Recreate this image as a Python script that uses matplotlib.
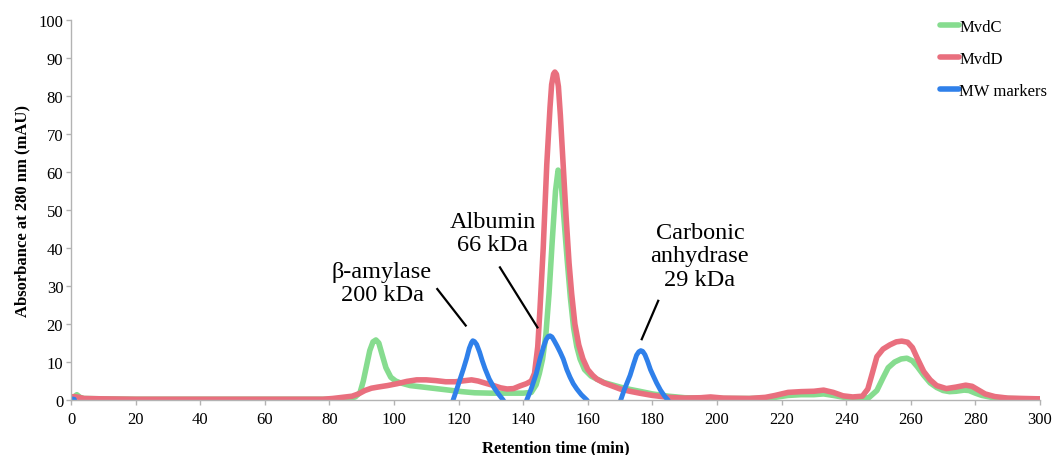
import numpy
import matplotlib
matplotlib.use('Agg')
import matplotlib.pylab as plot
from matplotlib.ticker import MultipleLocator

##########################################################################################
# Values (retention time in min, absorbance in mAU)

mvdc_time = [0, 1, 1.8, 2.8, 4, 10, 20, 40, 60, 80, 85, 88, 89.5, 90.5, 91.5, 92.5, 93.5,
             94.4, 95.3, 96.3, 97.5, 99, 100.5, 102, 105, 109, 113, 117, 121, 125, 130, 135,
             140, 142.5, 144, 145, 146, 147, 148, 149, 150, 150.8, 151.6, 152.6, 153.6,
             154.6, 155.6, 156.6, 157.6, 159, 161, 162.8, 165, 167.5, 170, 173, 176, 180,
             185, 190, 195, 200, 210, 215, 218, 222, 226, 230, 233, 236, 240, 244, 247,
             249.5, 251.5, 253, 255, 257, 258.8, 260.5, 262, 264, 266, 268, 270, 272, 274,
             276.5, 278, 280, 282, 285, 290, 295, 300]
mvdc_abs = [0.5, 0.8, 1.4, 0.7, 0.4, 0.3, 0.2, 0.2, 0.2, 0.2, 0.3, 0.8, 2, 5, 9, 13, 15.3,
            15.8, 15, 12, 8.5, 6, 5, 4.5, 3.8, 3.4, 3.0, 2.6, 2.2, 1.9, 1.8, 1.8,
            1.8, 2, 4, 7, 10.8, 17, 28, 42, 55, 60.5, 59, 48, 37,
            27, 19, 14, 10.8, 8, 6.3, 5.5, 4.6, 4, 3.4, 2.8, 2.3, 1.6,
            1, 0.6, 0.5, 0.4, 0.4, 0.5, 0.7, 1.2, 1.4, 1.4, 1.6, 1.2, 0.6, 0.4, 0.6,
            2.5, 6, 8.5, 10, 10.8, 11, 10.3, 8.8, 6.5, 4.5, 3.3, 2.5, 2.2, 2.3,
            2.6, 2.5, 1.8, 1.2, 0.7, 0.4, 0.3, 0.3]

mvdd_time = [0, 1, 2.5, 4, 10, 20, 40, 60, 78, 81, 84, 87, 89, 91, 93, 95, 98, 101, 104,
             107, 110, 113, 116, 119, 122, 124, 126, 128, 130.5, 133, 135, 137, 139, 141,
             142.5, 143.5, 144.5, 145.2, 146.2, 147.3, 148.3, 148.8, 149.4, 149.8, 150.3,
             150.9, 151.5, 152.3, 153.3, 154.2, 155, 156, 157.2, 158.5, 160, 161.5, 162.8,
             165, 167.5, 170, 173, 176, 180, 185, 190, 195, 198, 202, 210, 215, 218, 222,
             226, 230, 233, 236, 239, 242, 245, 246.7, 248, 249.5, 251.4, 253.5, 255.5,
             257.2, 259, 260.5, 262, 264, 266, 268, 271, 274, 277, 279, 281, 283, 286, 290,
             295, 300]
mvdd_abs = [0.8, 0.9, 0.7, 0.4, 0.3, 0.2, 0.2, 0.2, 0.2, 0.4, 0.7, 1.0, 1.6, 2.5, 3.1, 3.4,
            3.8, 4.3, 4.9, 5.3, 5.3, 5.1, 4.8, 4.8, 5.1, 5.3, 5.0, 4.5, 3.9, 3.2, 2.9, 3.0,
            3.7, 4.3, 5, 7, 14, 24, 40, 62, 77, 83, 85.8, 86.3, 85.7,
            82.5, 75, 63, 48, 36, 28, 20, 14.5, 10.8, 8, 6.5, 5.5,
            4.5, 3.7, 2.9, 2.3, 1.8, 1.2, 0.7, 0.5, 0.6, 0.8, 0.5, 0.4, 0.7, 1.2, 2,
            2.2, 2.3, 2.6, 2.0, 1.1, 0.8, 1.0, 2.9, 6.8, 11.4, 13.4, 14.5, 15.3,
            15.5, 15.2, 13.8, 11, 7.5, 5.3, 3.8, 3.0, 3.4, 3.9, 3.6, 2.6, 1.6, 0.9, 0.5,
            0.4, 0.3]

# MW standards, trace drops below zero between peaks
markers_time = [0, 1, 2.5, 117.5, 118.3, 119.5, 120.5, 121.5, 122.5, 123.3, 124, 124.4, 124.9,
                125.6, 126.5, 127.3, 128.2, 129.5, 131, 132.5, 133.8, 134.5, 140.5, 141.1,
                142.5, 144, 145.2, 146.3, 147.1, 147.7, 148.3, 148.9, 149.6, 150.5, 151.5,
                152.4, 153.5, 154.5, 155.5, 156.6, 158, 159.7, 160.5, 169.5, 170.2, 171.2,
                172.2, 173.1, 174.2, 175.1, 175.8, 176.4, 177, 177.7, 178.5, 179.4, 180.2,
                181.3, 182.5, 183.7, 184.8, 185.5, 190]
markers_abs = [0.3, 0.2, -3, -2, 0, 3, 5.6, 8.2, 11, 13.6, 15.1, 15.6, 15.4,
               14.6, 12.6, 10.4, 8.2, 5.5, 3.2, 1.4, 0, -1, -1.5, 0,
               3, 6.8, 10.8, 14, 15.9, 16.7, 16.9, 16.6, 15.6, 14.2, 12.5,
               10.8, 8, 6, 4.3, 2.9, 1.4, 0, -1, -1.5, 0, 2.5,
               4.6, 6.5, 9.5, 11.8, 12.7, 13, 12.8, 11.9, 10.2, 8, 6.5,
               4.5, 2.6, 1.1, 0, -1, -3]

series_names = ['MvdC', 'MvdD', 'MW markers']
series_colors = ['#86dc8f', '#e96f7e', '#2f80ea']

peak_labels = [u'\u03b2-amylase\n200 kDa', 'Albumin\n66 kDa', 'Carbonic\nanhydrase\n29 kDa']
label_pos = [(96.3, 30.9), (130.5, 43.9), (194.7, 37.9)]
pointer_lines = [((113.4, 29.2), (122.2, 19.6)),
                 ((132.8, 34.9), (144.4, 19.1)),
                 ((181.8, 26.1), (176.7, 16.0))]

##########################################################################################

plot.rcParams['font.family'] = ['Liberation Serif', 'DejaVu Serif']

fig = plot.figure(figsize=(10.53, 4.56), dpi=100)
ax = fig.add_axes([71/1053., 1 - 401/456., (1040 - 71)/1053., (401 - 21)/456.])

ax.plot(mvdc_time, mvdc_abs, color=series_colors[0], lw=4.0, label=series_names[0],
        solid_capstyle='round', solid_joinstyle='round')
ax.plot(mvdd_time, mvdd_abs, color=series_colors[1], lw=4.0, label=series_names[1],
        solid_capstyle='round', solid_joinstyle='round')
ax.plot(markers_time, markers_abs, color=series_colors[2], lw=3.5, label=series_names[2],
        solid_capstyle='round', solid_joinstyle='round')

# Peak annotations
for text, (x, y) in zip(peak_labels, label_pos):
    ax.text(x, y, text, ha='center', va='center', multialignment='center',
            fontsize=17.5, linespacing=1.13)
for (x0, y0), (x1, y1) in pointer_lines:
    ax.plot([x0, x1], [y0, y1], color='black', lw=1.6)

ax.set_xlim(0, 300)
ax.set_ylim(0, 100)
ax.xaxis.set_major_locator(MultipleLocator(20))
ax.yaxis.set_major_locator(MultipleLocator(10))

for side in ['top', 'right']:
    ax.spines[side].set_visible(False)
for side in ['left', 'bottom']:
    ax.spines[side].set_color('#b3b3b3')
    ax.spines[side].set_linewidth(1.0)

ax.tick_params(axis='both', direction='out', length=3.6, width=1.0, color='#b3b3b3',
               labelsize=12)
ax.tick_params(axis='x', pad=4)
ax.tick_params(axis='y', pad=2)

ax.set_xlabel('Retention time (min)', fontsize=12, fontweight='bold', labelpad=9)
ax.set_ylabel('Absorbance at 280 nm (mAU)', fontsize=12, fontweight='bold', labelpad=6)

leg = fig.legend(loc='upper left', bbox_to_anchor=(940/1053., 1 - 20/456.), frameon=False,
                 handlelength=1.15, handletextpad=0.0, labelspacing=0.95, fontsize=12,
                 borderaxespad=0, borderpad=0)
for line in leg.get_lines():
    line.set_linewidth(4.0)

plot.savefig('out.png', dpi=100)
